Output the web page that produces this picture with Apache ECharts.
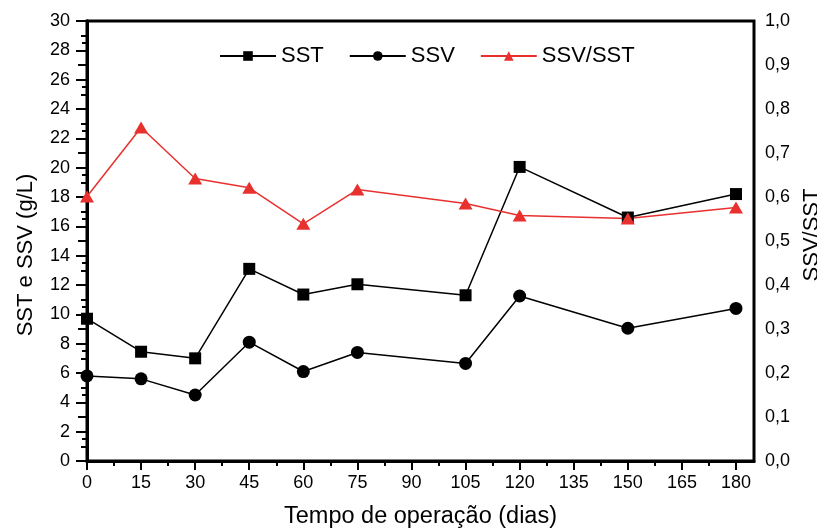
<!DOCTYPE html>
<html>
<head>
<meta charset="utf-8">
<script src="https://cdn.jsdelivr.net/npm/echarts@6/dist/echarts.min.js"></script>
<style>html,body{margin:0;padding:0;background:#fff}#c{width:817px;height:531px}</style>
</head>
<body>
<div id="c"></div>
<script>
const days = [0, 15, 30, 45, 60, 75, 105, 120, 150, 180];
const sst = [9.7, 7.45, 7.0, 13.1, 11.35, 12.05, 11.3, 20.05, 16.6, 18.2];
const ssv = [5.8, 5.6, 4.5, 8.1, 6.1, 7.4, 6.65, 11.25, 9.05, 10.4];
const ratio = [0.601, 0.758, 0.642, 0.621, 0.539, 0.617, 0.585, 0.558, 0.551, 0.576];
const xTicks = [0, 15, 30, 45, 60, 75, 90, 105, 120, 135, 150, 165, 180];
const xMinorTicks = [7.5, 22.5, 37.5, 52.5, 67.5, 82.5, 97.5, 112.5, 127.5, 142.5, 157.5, 172.5];

const FONT = 'Liberation Sans, Arial, sans-serif';
const RED = '#e8312f';
const pairs = (ys) => days.map((d, i) => [d, ys[i]]);

const chart = echarts.init(document.getElementById('c'), null, {renderer: 'canvas'});
chart.setOption({
  animation: false,
  backgroundColor: '#fff',
  textStyle: {fontFamily: FONT, color: '#000'},
  grid: {left: 87, right: 63, top: 21, bottom: 70, show: true, borderColor: '#000', borderWidth: 3,
    containLabel: false, outerBoundsMode: 'none'},
  legend: {
    left: 214, top: 40, itemWidth: 56, itemHeight: 12, itemGap: 25,
    textStyle: {fontSize: 22, fontFamily: FONT, color: '#000'},
    data: ['SST', 'SSV', 'SSV/SST']
  },
  xAxis: [{
    type: 'value', min: 0, max: 185, interval: 15, position: 'bottom',
    name: 'Tempo de operação (dias)', nameLocation: 'middle', nameGap: 44,
    nameTextStyle: {fontSize: 23.5, fontFamily: FONT, color: '#000'},
    axisLine: {lineStyle: {color: '#000', width: 3}},
    axisTick: {show: true, length: 9, lineStyle: {width: 2, color: '#000'}, customValues: xTicks},
    axisLabel: {fontSize: 18, fontFamily: FONT, color: '#000', margin: 13, customValues: xTicks},
    splitLine: {show: false}
  }, {
    type: 'value', min: 0, max: 185, position: 'bottom',
    axisLine: {show: false},
    axisTick: {show: true, length: 5, lineStyle: {width: 2, color: '#000'}, customValues: xMinorTicks},
    axisLabel: {show: false, customValues: xMinorTicks},
    splitLine: {show: false}
  }],
  yAxis: [{
    type: 'value', min: 0, max: 30, interval: 2, position: 'left',
    name: 'SST e SSV (g/L)', nameLocation: 'middle', nameGap: 50,
    nameTextStyle: {fontSize: 22, fontFamily: FONT, color: '#000', padding: [0, 28, 0, 0]},
    axisLine: {show: true, lineStyle: {color: '#000', width: 3}},
    axisTick: {show: true, length: 11, lineStyle: {width: 2, color: '#000'}},
    minorTick: {show: true, splitNumber: 2, length: 6, lineStyle: {width: 2, color: '#000'}},
    axisLabel: {fontSize: 18, fontFamily: FONT, color: '#000', margin: 17},
    splitLine: {show: false}
  }, {
    type: 'value', min: 0, max: 1, interval: 0.1, position: 'right',
    name: 'SSV/SST', nameLocation: 'middle', nameGap: 41,
    nameTextStyle: {fontSize: 22, fontFamily: FONT, color: '#000', padding: [0, 0, 0, 12]},
    axisLine: {show: true, lineStyle: {color: '#000', width: 3}},
    axisTick: {show: true, inside: true, length: 9, lineStyle: {width: 2, color: '#000'}},
    minorTick: {show: true, splitNumber: 2, length: 5, lineStyle: {width: 2, color: '#000'}},
    axisLabel: {fontSize: 18, fontFamily: FONT, color: '#000', margin: 11,
      formatter: v => v.toFixed(1).replace('.', ',')},
    splitLine: {show: false}
  }],
  series: [{
    name: 'SST', type: 'line', xAxisIndex: 0, yAxisIndex: 0, data: pairs(sst),
    symbol: 'rect', symbolSize: 12,
    lineStyle: {color: '#000', width: 1.5}, itemStyle: {color: '#000'}
  }, {
    name: 'SSV', type: 'line', xAxisIndex: 0, yAxisIndex: 0, data: pairs(ssv),
    symbol: 'circle', symbolSize: 13,
    lineStyle: {color: '#000', width: 1.5}, itemStyle: {color: '#000'}
  }, {
    name: 'SSV/SST', type: 'line', xAxisIndex: 0, yAxisIndex: 1, data: pairs(ratio),
    symbol: 'triangle', symbolSize: [14, 12],
    lineStyle: {color: RED, width: 1.5}, itemStyle: {color: RED}
  }]
});
</script>
</body>
</html>
